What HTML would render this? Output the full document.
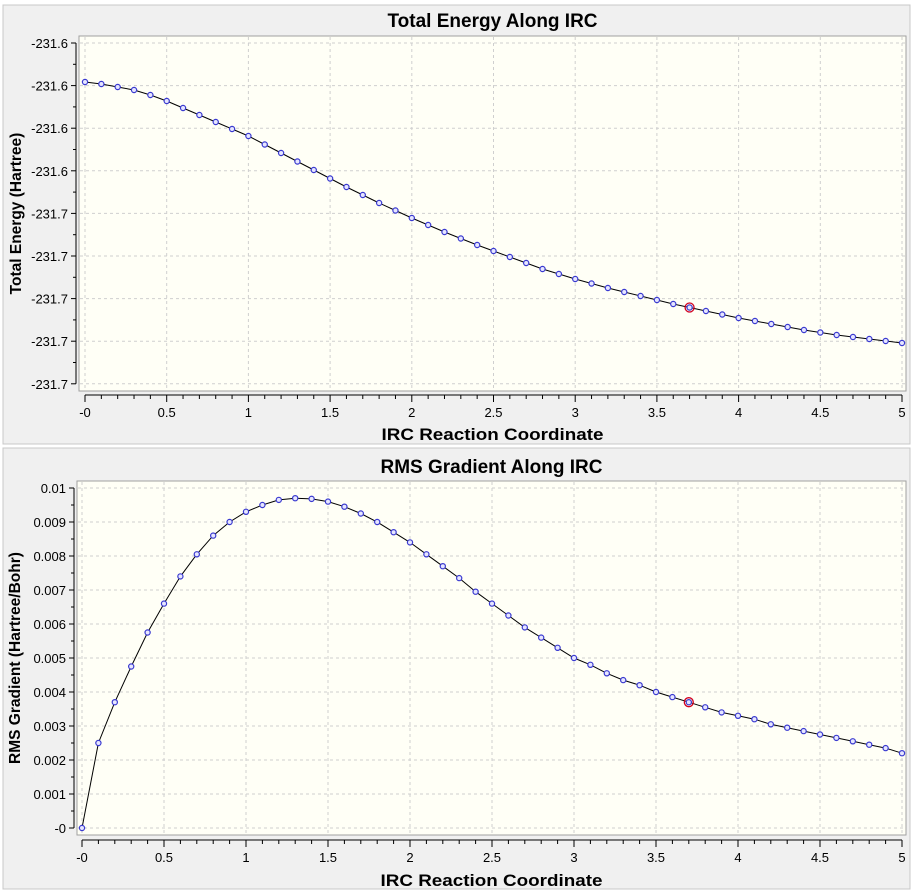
<!DOCTYPE html>
<html><head><meta charset="utf-8"><style>
html,body{margin:0;padding:0;background:#fff;}
svg{display:block;font-family:"Liberation Sans",Arial,sans-serif;}
</style></head><body>
<svg id="s" width="913" height="892" xmlns="http://www.w3.org/2000/svg"></svg>
<script>
const s=document.getElementById('s');let h='';
h+='<rect x="0" y="0" width="913" height="892" fill="#fff"/>';
h+='<rect x="3" y="5" width="907" height="439" fill="#f0f0f0" stroke="#c8c8c8"/>';
h+='<rect x="3" y="448" width="907" height="441" fill="#f0f0f0" stroke="#c8c8c8"/>';
function panel(o){
 const {L,T,R,B,x0,x1,axY,title,titleY,xlabY,ylab,ylabX,yticks,pts}=o;
 h+=`<rect x="${L}" y="${T}" width="${R-L}" height="${B-T}" fill="#fffff6" stroke="#a0a0a0"/>`;
 const px=v=>x0+(x1-x0)*v/5;
 for(let i=0;i<=10;i++){const x=px(i*0.5);h+=`<line x1="${x}" y1="${T+1}" x2="${x}" y2="${B-1}" stroke="#cfcfcf" stroke-dasharray="3,3"/>`;}
 yticks.forEach((t,i)=>{h+=`<line x1="${L+1}" y1="${t[0]}" x2="${R-1}" y2="${t[0]}" stroke="#cfcfcf" stroke-dasharray="3,3"/>`;
  h+=`<line x1="${L-8}" y1="${t[0]}" x2="${L-3}" y2="${t[0]}" stroke="#000"/>`;
  h+=`<text x="${L-11}" y="${t[0]+5}" font-size="13" text-anchor="end">${t[1]}</text>`;
  if(i<yticks.length-1){const m=(t[0]+yticks[i+1][0])/2;h+=`<line x1="${L-6}" y1="${m}" x2="${L-3}" y2="${m}" stroke="#000"/>`;}
 });
 h+=`<line x1="${L-3}" y1="${yticks[0][0]}" x2="${L-3}" y2="${yticks[yticks.length-1][0]}" stroke="#000"/>`;
 h+=`<line x1="${px(0)}" y1="${axY}" x2="${px(5)}" y2="${axY}" stroke="#000"/>`;
 for(let i=0;i<=50;i++){const x=px(i*0.1);h+=`<line x1="${x}" y1="${axY}" x2="${x}" y2="${axY+(i%5==0?7:4)}" stroke="#000"/>`;}
 const lab=['-0','0.5','1','1.5','2','2.5','3','3.5','4','4.5','5'];
 lab.forEach((l,i)=>h+=`<text x="${px(i*0.5)}" y="${axY+22}" font-size="13" text-anchor="middle">${l}</text>`);
 h+=`<text x="${(L+R)/2}" y="${xlabY}" font-size="17" font-weight="bold" text-anchor="middle" textLength="222" lengthAdjust="spacingAndGlyphs">IRC Reaction Coordinate</text>`;
 h+=`<text x="${(L+R)/2}" y="${titleY}" font-size="19" font-weight="bold" text-anchor="middle">${title}</text>`;
 h+=`<text transform="translate(${ylabX},${(T+B)/2}) rotate(-90)" font-size="15.5" font-weight="bold" text-anchor="middle">${ylab}</text>`;
 let d='';pts.forEach((y,i)=>d+=(i?'L':'M')+px(i*0.1).toFixed(1)+','+y.toFixed(1));
 h+=`<path d="${d}" fill="none" stroke="#000" stroke-width="1"/>`;
 pts.forEach((y,i)=>h+=`<circle cx="${px(i*0.1)}" cy="${y}" r="2.6" fill="#e6e6ff" stroke="#3a3ad0" stroke-width="1.2"/>`);
 h+=`<circle cx="${px(3.7)}" cy="${pts[37]}" r="4.5" fill="none" stroke="#d00020" stroke-width="1.3"/>`;
}
const tk=[[0,82],[0.1,84],[0.2,87],[0.3,90],[0.4,95],[0.5,101],[0.6,108],[0.7,115],[0.8,122],[0.9,129],[1,136],[1.2,153],[1.4,170],[1.6,187],[1.8,203],[2,218],[2.2,232],[2.4,245],[2.6,257],[2.8,269],[3,279],[3.2,288],[3.4,296],[3.6,304],[3.8,311],[4,318],[4.2,324],[4.4,330],[4.6,335],[4.8,339],[5,343]];
function interp(k,v){for(let i=0;i<k.length-1;i++){if(v<=k[i+1][0]+1e-9){const a=k[i],b=k[i+1];return a[1]+(b[1]-a[1])*(v-a[0])/(b[0]-a[0]);}}return k[k.length-1][1];}
const tp=[];for(let i=0;i<=50;i++)tp.push(interp(tk,i*0.1));
const tyt=[];for(let i=0;i<9;i++)tyt.push([43+i*42.6,i<4?'-231.6':'-231.7']);
panel({L:79,T:36,R:906,B:391,x0:85,x1:902,axY:395,title:'Total Energy Along IRC',titleY:27,xlabY:440,ylab:'Total Energy (Hartree)',ylabX:21,yticks:tyt,pts:tp});
const bv=[0,2.5,3.7,4.75,5.75,6.6,7.4,8.05,8.6,9.0,9.3,9.5,9.65,9.7,9.68,9.6,9.45,9.25,9.0,8.7,8.4,8.05,7.7,7.35,6.95,6.6,6.25,5.9,5.6,5.3,5.0,4.8,4.55,4.35,4.2,4.0,3.85,3.7,3.55,3.4,3.3,3.2,3.05,2.95,2.85,2.75,2.65,2.55,2.45,2.35,2.2];
const bp=bv.map(v=>828-34*v);
const byt=[];const bl=['0.01','0.009','0.008','0.007','0.006','0.005','0.004','0.003','0.002','0.001','-0'];
for(let i=0;i<=10;i++)byt.push([488+i*34,bl[i]]);
panel({L:77,T:481,R:906,B:835,x0:82,x1:902,axY:840,title:'RMS Gradient Along IRC',titleY:473,xlabY:886,ylab:'RMS Gradient (Hartree/Bohr)',ylabX:20,yticks:byt,pts:bp});
s.innerHTML=h;
</script>
</body></html>
